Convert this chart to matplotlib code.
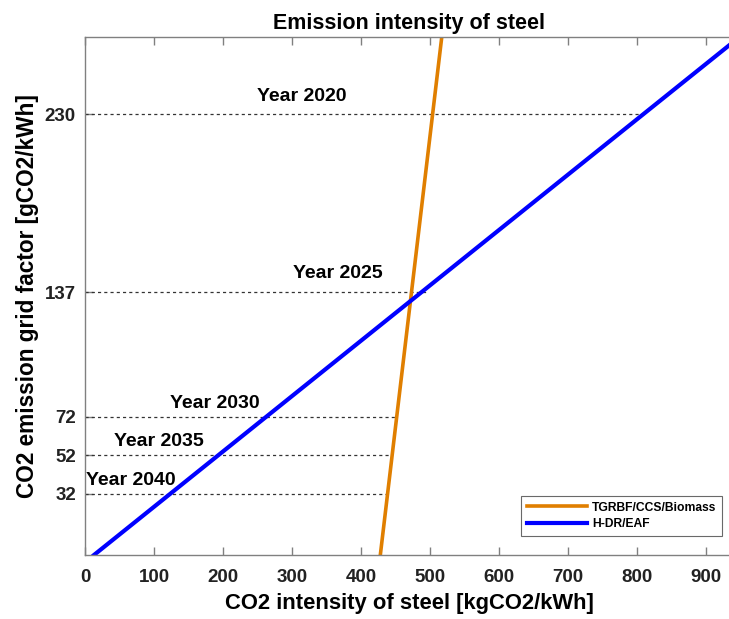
import matplotlib.pyplot as plt

plt.rcParams["font.family"] = ["Liberation Sans", "DejaVu Sans"]
plt.rcParams["font.weight"] = "bold"

# data
orange_x = [428, 517]
orange_y = [0, 270]
blue_x = [13, 948]
blue_y = [0, 270]

year_levels = [230, 137, 72, 52, 32]
year_line_end = [810, 497, 452, 445, 439]
year_names = ["Year 2020", "Year 2025", "Year 2030", "Year 2035", "Year 2040"]
year_text_x = [314, 366, 188, 107, 67]
year_text_y = [239, 147, 79, 59, 39]

xticks = [0, 100, 200, 300, 400, 500, 600, 700, 800, 900]

fig = plt.figure(figsize=(7.29, 6.19), dpi=100)
ax = fig.add_axes([0.1166, 0.1034, 0.8897, 0.8363])

# dashed year lines
for lvl, xe in zip(year_levels, year_line_end):
    ax.plot([0, xe], [lvl, lvl], color="#333333", lw=0.9, ls=(0, (2.5, 2.5)))

ax.plot(orange_x, orange_y, color="#E07F00", lw=2.6, label="TGRBF/CCS/Biomass")
ax.plot(blue_x, blue_y, color="#0000FF", lw=3.0, label="H-DR/EAF")

for name, tx, ty in zip(year_names, year_text_x, year_text_y):
    ax.text(tx, ty, name, ha="center", va="center", fontsize=14, fontweight="bold")

ax.set_xlim(0, 940)
ax.set_ylim(0, 270)
ax.set_xticks(xticks)
ax.set_yticks(year_levels)
ax.tick_params(direction="in", length=6, width=1, colors="#808080",
               labelcolor="#222222", labelsize=13.5, top=True, right=False)
ax.tick_params(axis="x", pad=10)
ax.tick_params(axis="y", pad=6.5)
for side in ["left", "right", "top", "bottom"]:
    ax.spines[side].set_color("#808080")
    ax.spines[side].set_linewidth(1)
for lab in ax.get_xticklabels() + ax.get_yticklabels():
    lab.set_fontweight("bold")

ax.set_title("Emission intensity of steel", fontsize=15.5, fontweight="bold", pad=6)
ax.set_xlabel("CO2 intensity of steel [kgCO2/kWh]", fontsize=15.8, fontweight="bold", labelpad=5)
ax.set_ylabel("CO2 emission grid factor [gCO2/kWh]", fontsize=16.3, fontweight="bold", labelpad=4)

leg = ax.legend(loc="lower right", bbox_to_anchor=(0.982, 0.037), borderaxespad=0,
                fontsize=8.7, handlelength=5.0, handletextpad=0.4, labelspacing=0.4,
                borderpad=0.45, frameon=True, fancybox=False)
leg.get_frame().set_edgecolor("#444444")
leg.get_frame().set_linewidth(0.8)
for t in leg.get_texts():
    t.set_fontweight("bold")

fig.savefig("out.png", dpi=100)
